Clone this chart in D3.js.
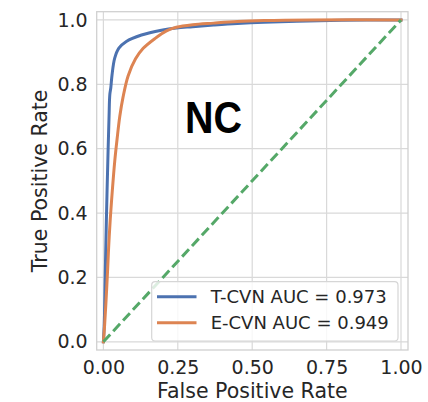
<!DOCTYPE html>
<html>
<head>
<meta charset="utf-8">
<script src="https://cdn.jsdelivr.net/npm/d3@7"></script>
<style>
  html, body { margin: 0; padding: 0; background: #fff; }
  svg { display: block; }
  text { font-family: "DejaVu Sans", sans-serif; fill: #262626; }
</style>
</head>
<body>
<div id="chart"></div>
<script>
// ---- data ----
const tcvnFpr = [0, 0.003, 0.006, 0.01, 0.016, 0.019, 0.0215, 0.025, 0.029, 0.038, 0.052, 0.077, 0.128, 0.195, 0.245, 0.3, 0.37, 0.45, 0.54, 0.65, 0.8, 1.0];
const tcvnTpr = [0, 0.06, 0.2, 0.378, 0.602, 0.7, 0.767, 0.79, 0.829, 0.881, 0.912, 0.933, 0.953, 0.968, 0.975, 0.979, 0.984, 0.989, 0.993, 0.996, 0.999, 1.0];
const ecvnFpr = [0, 0.004, 0.009, 0.014, 0.018, 0.023, 0.03, 0.038, 0.046, 0.055, 0.066, 0.083, 0.108, 0.133, 0.173, 0.212, 0.245, 0.3, 0.37, 0.45, 0.54, 0.7, 1.0];
const ecvnTpr = [0, 0.05, 0.13, 0.22, 0.3, 0.38, 0.47, 0.56, 0.63, 0.70, 0.76, 0.826, 0.879, 0.911, 0.942, 0.966, 0.977, 0.985, 0.99, 0.995, 0.998, 1.0, 1.0];
const diagX = [0, 1];
const diagY = [0, 1];
const seriesNames = ["T-CVN AUC = 0.973", "E-CVN AUC = 0.949"];
const seriesColors = ["#4c72b0", "#dd8452"];
const diagColor = "#55a868";
const xTicks = [0, 0.25, 0.5, 0.75, 1.0];
const yTicks = [0, 0.2, 0.4, 0.6, 0.8, 1.0];
const annotation = "NC";

// ---- layout ----
const W = 428, H = 402;
const pL = 96.7, pR = 408, pT = 11.7, pB = 350;

const svg = d3.select("#chart").append("svg").attr("width", W).attr("height", H);

const x = d3.scaleLinear().domain([-0.0225, 1.0235]).range([pL, pR]);
const y = d3.scaleLinear().domain([-0.0255, 1.0255]).range([pB, pT]);

// grid
const grid = svg.append("g");
grid.selectAll("line.gx").data(xTicks).enter().append("line")
  .attr("x1", d => x(d)).attr("x2", d => x(d)).attr("y1", pT).attr("y2", pB)
  .attr("stroke", "#d9d9d9").attr("stroke-width", 1.2);
grid.selectAll("line.gy").data(yTicks).enter().append("line")
  .attr("y1", d => y(d)).attr("y2", d => y(d)).attr("x1", pL).attr("x2", pR)
  .attr("stroke", "#d9d9d9").attr("stroke-width", 1.2);

// axes (labels only, no tick marks)
const xAxis = d3.axisBottom(x).tickValues(xTicks).tickFormat(d3.format(".2f")).tickSize(0).tickPadding(11);
const gx = svg.append("g").attr("transform", `translate(0,${pB})`).call(xAxis);
gx.select(".domain").remove();
gx.selectAll("text").style("font-size", "19px").style("font-family", "DejaVu Sans").attr("fill", "#262626");

const yAxis = d3.axisLeft(y).tickValues(yTicks).tickFormat(d3.format(".1f")).tickSize(0).tickPadding(9);
const gy = svg.append("g").attr("transform", `translate(${pL},0)`).call(yAxis);
gy.select(".domain").remove();
gy.selectAll("text").style("font-size", "19px").style("font-family", "DejaVu Sans").attr("fill", "#262626");

// frame
svg.append("rect").attr("x", pL).attr("y", pT).attr("width", pR - pL).attr("height", pB - pT)
  .attr("fill", "none").attr("stroke", "#d0d0d0").attr("stroke-width", 1.3);

// lines
svg.append("clipPath").attr("id", "clip").append("rect")
  .attr("x", pL).attr("y", pT).attr("width", pR - pL).attr("height", pB - pT);
const plot = svg.append("g").attr("clip-path", "url(#clip)");

const line = d3.line().x(d => x(d[0])).y(d => y(d[1])).curve(d3.curveCatmullRom.alpha(0.5));
const series = [
  d3.zip(tcvnFpr, tcvnTpr),
  d3.zip(ecvnFpr, ecvnTpr)
];
series.forEach((s, i) => {
  plot.append("path").datum(s).attr("d", line)
    .attr("fill", "none").attr("stroke", seriesColors[i]).attr("stroke-width", 3)
    .attr("stroke-linejoin", "round").attr("stroke-linecap", "square");
});
plot.append("path").datum(d3.zip(diagX, diagY)).attr("d", d3.line().x(d => x(d[0])).y(d => y(d[1])))
  .attr("fill", "none").attr("stroke", diagColor).attr("stroke-width", 3)
  .attr("stroke-dasharray", "10,4.5");

// annotation
svg.append("text").text(annotation)
  .attr("x", 185).attr("y", 132.7)
  .attr("textLength", 57).attr("lengthAdjust", "spacingAndGlyphs")
  .style("font-family", "Liberation Sans").style("font-weight", "bold").style("font-size", "45px")
  .attr("fill", "#000").style("fill", "#000");

// axis titles
svg.append("text").text("False Positive Rate")
  .attr("x", (pL + pR) / 2).attr("y", 397.5).attr("text-anchor", "middle")
  .style("font-size", "20.5px");
svg.append("text").text("True Positive Rate")
  .attr("transform", `translate(46.5,${(pT + pB) / 2}) rotate(-90)`)
  .attr("text-anchor", "middle").style("font-size", "20.5px");

// legend
const lg = svg.append("g");
lg.append("rect").attr("x", 151.7).attr("y", 281.7).attr("width", 246.3).attr("height", 59.3)
  .attr("rx", 3.5).attr("fill", "rgba(255,255,255,0.8)").attr("stroke", "#d6d6d6").attr("stroke-width", 1.2);
const rowY = [296.7, 322.7];
seriesNames.forEach((name, i) => {
  lg.append("line").attr("x1", 157).attr("x2", 196.5).attr("y1", rowY[i]).attr("y2", rowY[i])
    .attr("stroke", seriesColors[i]).attr("stroke-width", 3);
  lg.append("text").text(name).attr("x", 210.7).attr("y", rowY[i] + 6.5).style("font-size", "18px");
});
</script>
</body>
</html>
